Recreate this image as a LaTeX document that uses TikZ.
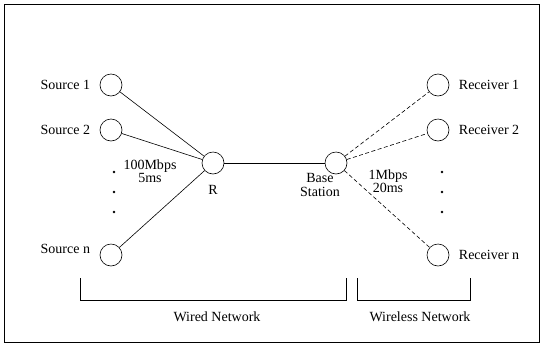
\documentclass[tikz,border=0pt]{standalone}
\usepackage{fontspec}
\setmainfont{Liberation Serif}
\usepackage{tikz}

\begin{document}
\begin{tikzpicture}[
		x=1pt, y=-1pt,
		line width=0.6pt,
		font=\fontsize{14}{15.5}\selectfont,
		host/.style={circle, draw, minimum size=22pt, inner sep=0pt},
		dot/.style={circle, fill, minimum size=2.6pt, inner sep=0pt},
		wireless/.style={dash pattern=on 4pt off 2.5pt},
		every label/.append style={rectangle, label distance=6pt}
	]
  \useasboundingbox (0,0) rectangle (543,346);
  \draw[line width=0.7pt] (4,4) rectangle (539,342);
  % wired side
  \node (s1) [host, label=left:Source 1] at (111, 85) {};
  \node (s2) [host, label=left:Source 2] at (111, 130) {};
  \node (sn) [host, label={[yshift=6pt]left:Source n}] at (111, 255) {};
  \node (r) [host, label={[label distance=7pt]below:R}] at (213, 163) {};
  \node (bs) [host] at (336, 163) {};
  \node (bs_txt) [align=center, inner sep=0pt] at (320, 185) {Base\\[-2pt]Station};
  % wireless side
  \node (r1) [host, label=right:Receiver 1] at (438, 85) {};
  \node (r2) [host, label=right:Receiver 2] at (438, 130) {};
  \node (rn) [host, label=right:Receiver n] at (438, 255) {};
  % link parameters
  \node (wired_bw) [align=center, inner sep=0pt] at (150, 171) {100Mbps\\[-2pt]5ms};
  \node (wless_bw) [align=center, inner sep=0pt] at (388, 181) {1Mbps\\[-2pt]20ms};
  % the dots
  \foreach \y [count=\i] in {172, 192, 212} {
    \node (ldot\i) [dot] at (114, \y) {};
    \node (rdot\i) [dot] at (442, \y) {};
  }
  \draw (s1) -- (r);
  \draw (s2) -- (r);
  \draw (sn) -- (r);
  \draw (r) -- (bs);
  \draw [wireless] (bs) -- (r1);
  \draw [wireless] (bs) -- (r2);
  \draw [wireless] (bs) -- (rn);
  % brackets
  \draw (80, 278) |- (346, 300) -- (346, 278);
  \draw (357, 278) |- (470, 300) -- (470, 278);
  \node (wired) at (217, 317) {Wired Network};
  \node (wless) at (420, 317) {Wireless Network};
\end{tikzpicture}
\end{document}
